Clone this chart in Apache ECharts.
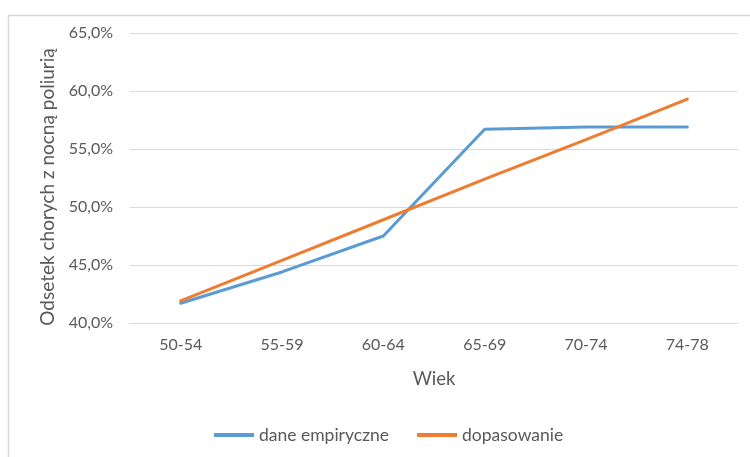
<!DOCTYPE html>
<html>
<head>
<meta charset="utf-8">
<script src="https://cdn.jsdelivr.net/npm/echarts@6/dist/echarts.min.js"></script>
<style>
  html, body { margin: 0; padding: 0; background: #fff; }
  #chart { width: 750px; height: 457px; }
</style>
</head>
<body>
<div id="chart"></div>
<script>
// Age groups and share of patients with nocturnal polyuria (%)
const categories = ['50-54', '55-59', '60-64', '65-69', '70-74', '74-78'];
const empirical = [41.7, 44.4, 47.5, 56.7, 56.9, 56.9];
const fitted = [41.9, 45.4, 48.9, 52.4, 55.8, 59.3];
const yTicks = { min: 40, max: 65, step: 5 };

const FONT = 'Lato, "Open Sans", sans-serif';
const TEXT = '#595959';

const chart = echarts.init(document.getElementById('chart'));
chart.setOption({
  animation: false,
  backgroundColor: '#fff',
  graphic: [{
    type: 'rect',
    shape: { x: 8.5, y: 15.5, width: 800, height: 500 },
    style: { fill: 'none', stroke: '#D9D9D9', lineWidth: 1.5 },
    silent: true
  }],
  grid: { left: 130, right: 12, top: 33, bottom: 134 },
  legend: {
    left: 209,
    top: 421,
    icon: 'rect',
    itemWidth: 40,
    itemHeight: 4,
    itemGap: 28,
    textStyle: { color: TEXT, fontFamily: FONT, fontSize: 17.5 },
    data: ['dane empiryczne', 'dopasowanie']
  },
  xAxis: {
    type: 'category',
    data: categories,
    boundaryGap: true,
    name: 'Wiek',
    nameLocation: 'middle',
    nameGap: 47,
    nameTextStyle: { color: TEXT, fontFamily: FONT, fontSize: 18.5 },
    axisLine: { show: true, lineStyle: { color: '#D9D9D9', width: 1 } },
    axisTick: { show: false },
    axisLabel: { color: TEXT, fontFamily: FONT, fontSize: 16, margin: 14 }
  },
  yAxis: {
    type: 'value',
    min: yTicks.min,
    max: yTicks.max,
    interval: yTicks.step,
    name: 'Odsetek chorych z nocną poliurią',
    nameLocation: 'middle',
    nameGap: 72,
    nameTextStyle: { color: TEXT, fontFamily: FONT, fontSize: 19, padding: [0, 18, 0, 0] },
    axisLine: { show: false },
    axisTick: { show: false },
    splitLine: { lineStyle: { color: '#D9D9D9', width: 1 } },
    axisLabel: {
      color: TEXT, fontFamily: FONT, fontSize: 16, margin: 17,
      formatter: v => v.toFixed(1).replace('.', ',') + '%'
    }
  },
  series: [
    {
      name: 'dane empiryczne',
      type: 'line',
      data: empirical,
      symbol: 'none',
      itemStyle: { color: '#5B9BD5' },
      lineStyle: { color: '#5B9BD5', width: 3, cap: 'round', join: 'round' }
    },
    {
      name: 'dopasowanie',
      type: 'line',
      data: fitted,
      symbol: 'none',
      itemStyle: { color: '#ED7D31' },
      lineStyle: { color: '#ED7D31', width: 3, cap: 'round', join: 'round' }
    }
  ]
});
</script>
</body>
</html>
